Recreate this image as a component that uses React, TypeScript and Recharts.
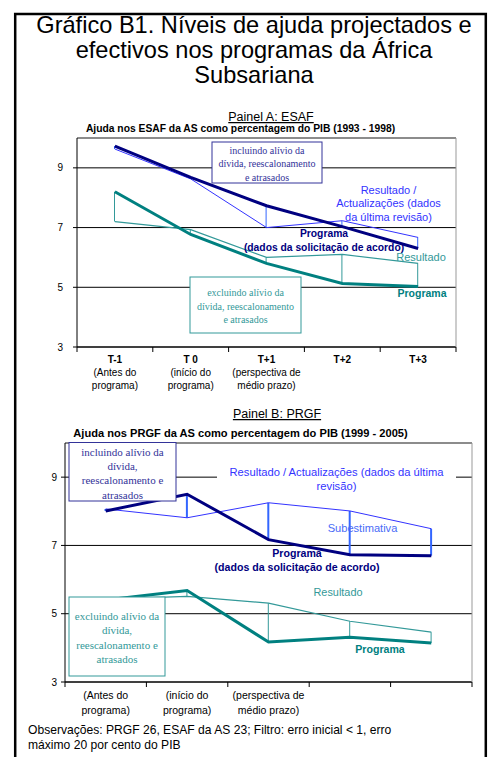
import { ComposedChart, Line, Bar, XAxis, YAxis, CartesianGrid, ReferenceLine } from "recharts"

const SANS = "'Liberation Sans', Arial, sans-serif"
const SERIF = "'Liberation Serif', 'Times New Roman', serif"

// categorias (eixo X)
const categories = ["T-1", "T 0", "T+1", "T+2", "T+3"]
const subLabels = [
  ["(Antes do", "programa)"],
  ["(início do", "programa)"],
  ["(perspectiva de", "médio prazo)"],
  [],
  [],
]
const yTicks = [3, 5, 7, 9]

// Painel A: ESAF (1993 - 1998), % do PIB
const esafProgram = [9.73, 8.68, 7.73, 7.03, 6.3]
const esafOutcome = [9.63, 8.63, 7.0, 7.23, 6.67]
const esafProgramExcl = [8.2, 6.77, 5.8, 5.13, 5.03]
const esafOutcomeExcl = [7.2, 6.93, 6.0, 6.1, 5.8]

// Painel B: PRGF (1999 - 2005), % do PIB
const prgfProgram = [8.01, 8.5, 7.17, 6.73, 6.7]
const prgfOutcome = [8.07, 7.81, 8.25, 8.01, 7.49]
const prgfProgramExcl = [5.4, 5.68, 4.17, 4.31, 4.14]
const prgfOutcomeExcl = [5.43, 5.51, 5.31, 4.78, 4.46]

const NAVY = "#000080"
const BLUE = "#3333ff"
const TEAL = "#008080"
const TEAL_LIGHT = "#339999"
const BOX_BLUE = "#333399"

function buildRows(prog: number[], res: number[], progEx: number[], resEx: number[]) {
  return categories.map((name, i) => ({
    name,
    prog: prog[i],
    res: res[i],
    progEx: progEx[i],
    resEx: resEx[i],
    gapIn: [Math.min(prog[i], res[i]), Math.max(prog[i], res[i])],
    gapEx: [Math.min(progEx[i], resEx[i]), Math.max(progEx[i], resEx[i])],
  }))
}

const rowsA = buildRows(esafProgram, esafOutcome, esafProgramExcl, esafOutcomeExcl)
const rowsB = buildRows(prgfProgram, prgfOutcome, prgfProgramExcl, prgfOutcomeExcl)

function makeTick(showCode: boolean, fontSize: number, firstDy: number, lineH: number) {
  return (props: any) => {
    const { x, y, payload, index } = props
    const half = payload?.offset ?? 38
    const sub = subLabels[index] || []
    const start = showCode ? 1 : 0
    return (
      <g>
        <line x1={x - half} x2={x - half} y1={y} y2={y + 5} stroke="#000" />
        {index === categories.length - 1 && <line x1={x + half} x2={x + half} y1={y} y2={y + 5} stroke="#000" />}
        {showCode && (
          <text x={x} y={y + firstDy} textAnchor="middle" fontSize={fontSize} fontWeight="bold" fill="#000" fontFamily={SANS}>
            {payload.value}
          </text>
        )}
        {sub.map((s, i) => (
          <text key={i} x={x} y={y + firstDy + (i + start) * lineH} textAnchor="middle" fontSize={fontSize} fill="#000" fontFamily={SANS}>
            {s}
          </text>
        ))}
      </g>
    )
  }
}

interface PanelProps {
  rows: any[]
  top: number
  height: number
  margin: { top: number; right: number; left: number; bottom: number }
  xHeight: number
  yTickMargin: number
  tick: any
  blueGap: number
}

function PanelChart({ rows, top, height, margin, xHeight, yTickMargin, tick, blueGap }: PanelProps) {
  return (
    <div style={{ position: "absolute", left: 0, top }}>
      <ComposedChart width={495} height={height} data={rows} margin={margin} barGap={-(blueGap + 1) / 2 - 0.001}>
        <CartesianGrid vertical={false} stroke="#000" strokeDasharray="" />
        <ReferenceLine y={10} stroke="#999" />
        <XAxis
          dataKey="name"
          interval={0}
          height={xHeight}
          tickLine={false}
          tickSize={0}
          tickMargin={0}
          axisLine={{ stroke: "#000" }}
          tick={tick}
        />
        <YAxis
          domain={[3, 10]}
          ticks={yTicks}
          width={40}
          tickSize={4}
          tickMargin={yTickMargin}
          tickLine={{ stroke: "#000" }}
          axisLine={{ stroke: "#000" }}
          tick={{ fontSize: 10, fill: "#000", fontFamily: SANS }}
          allowDataOverflow
        />
        <YAxis yAxisId="frame" orientation="right" domain={[3, 10]} width={1} tick={false} tickLine={false} axisLine={{ stroke: "#999" }} />
        <Bar dataKey="gapEx" fill={TEAL_LIGHT} barSize={1} isAnimationActive={false} />
        <Bar dataKey="gapIn" fill="#3366ff" barSize={blueGap} isAnimationActive={false} />
        <Line type="linear" dataKey="res" stroke={BLUE} strokeWidth={1} dot={false} activeDot={false} isAnimationActive={false} />
        <Line type="linear" dataKey="resEx" stroke={TEAL_LIGHT} strokeWidth={1.2} dot={false} activeDot={false} isAnimationActive={false} />
        <Line type="linear" dataKey="prog" stroke={NAVY} strokeWidth={3} dot={false} activeDot={false} isAnimationActive={false} />
        <Line type="linear" dataKey="progEx" stroke={TEAL} strokeWidth={3} dot={false} activeDot={false} isAnimationActive={false} />
      </ComposedChart>
    </div>
  )
}

function Lines({ x, y, lines, lh, ...rest }: any) {
  return (
    <text x={x} y={y} textAnchor="middle" {...rest}>
      {lines.map((l: string, i: number) => (
        <tspan key={i} x={x} y={y + i * lh}>
          {l}
        </tspan>
      ))}
    </text>
  )
}

export default function App() {
  return (
    <div style={{ position: "absolute", left: 0, top: 0, width: 495, height: 757, background: "#fff", overflow: "hidden" }}>
      <PanelChart
        rows={rowsA}
        top={120}
        height={277}
        margin={{ top: 18, right: 38, left: 37, bottom: 0 }}
        xHeight={50}
        yTickMargin={10}
        tick={makeTick(true, 10, 16, 13)}
        blueGap={1}
      />
      <PanelChart
        rows={rowsB}
        top={425}
        height={297}
        margin={{ top: 18, right: 22, left: 25, bottom: 0 }}
        xHeight={40}
        yTickMargin={4}
        tick={makeTick(false, 10.5, 17, 15)}
        blueGap={2}
      />

      <svg width={495} height={757} style={{ position: "absolute", left: 0, top: 0, pointerEvents: "none" }}>
        {/* moldura */}
        <rect x={15.2} y={14} width={470.6} height={770} fill="none" stroke="#000" strokeWidth={2.5} />

        {/* título */}
        <Lines x={254} y={33} lh={25} fontSize={23.6} fontFamily={SANS} fill="#000"
          lines={["Gráfico B1. Níveis de ajuda projectados e", "efectivos nos programas da África", "Subsariana"]} />

        {/* Painel A */}
        <text x={271} y={121} textAnchor="middle" fontSize={12.5} fontFamily={SANS} textDecoration="underline">Painel A: ESAF</text>
        <text x={240.5} y={131.5} textAnchor="middle" fontSize={10.3} fontWeight="bold" fontFamily={SANS}>
          Ajuda nos ESAF da AS como percentagem do PIB (1993 - 1998)
        </text>

        <rect x={212} y={142} width={110} height={41} fill="#fff" stroke={BOX_BLUE} strokeWidth={1} />
        <Lines x={267} y={153.5} lh={13.5} fontSize={10} fontFamily={SERIF} fill={BOX_BLUE}
          lines={["incluindo alívio da", "dívida, reescalonamento", "e atrasados"]} />

        <Lines x={388.5} y={193.5} lh={13.5} fontSize={11} fontFamily={SANS} fill={BLUE}
          lines={["Resultado /", "Actualizações (dados", "da última revisão)"]} />
        <Lines x={324} y={237} lh={14} fontSize={10.3} fontWeight="bold" fontFamily={SANS} fill={NAVY}
          lines={["Programa", "(dados da solicitação de acordo)"]} />
        <text x={421} y={261} textAnchor="middle" fontSize={11} fontFamily={SANS} fill={TEAL_LIGHT}>Resultado</text>

        <rect x={190} y={277} width={111} height={56} fill="#fff" stroke={TEAL_LIGHT} strokeWidth={1} />
        <Lines x={245.5} y={296} lh={13.5} fontSize={10} fontFamily={SERIF} fill={TEAL_LIGHT}
          lines={["excluindo alívio da", "dívida, reescalonamento", "e atrasados"]} />
        <text x={422} y={297} textAnchor="middle" fontSize={10.5} fontWeight="bold" fontFamily={SANS} fill={TEAL}>Programa</text>

        {/* Painel B */}
        <text x={277} y={418} textAnchor="middle" fontSize={12.5} fontFamily={SANS} textDecoration="underline">Painel B: PRGF</text>
        <text x={240.5} y={437} textAnchor="middle" fontSize={11.1} fontWeight="bold" fontFamily={SANS}>
          Ajuda nos PRGF da AS como percentagem do PIB (1999 - 2005)
        </text>

        <rect x={69} y={442.5} width={107} height={58.5} fill="#fff" stroke={BOX_BLUE} strokeWidth={1} />
        <Lines x={122.5} y={456} lh={14.2} fontSize={11} fontFamily={SERIF} fill={BOX_BLUE}
          lines={["incluindo alívio da", "dívida,", "reescalonamento e", "atrasados"]} />

        <rect x={217} y={464} width={239} height={28} fill="#fff" />
        <Lines x={336.5} y={476} lh={14} fontSize={11.2} fontFamily={SANS} fill={BLUE}
          lines={["Resultado / Actualizações (dados da última", "revisão)"]} />
        <text x={362.5} y={532} textAnchor="middle" fontSize={11.1} fontFamily={SANS} fill="#4a6cf7">Subestimativa</text>
        <Lines x={297} y={557} lh={14} fontSize={10.6} fontWeight="bold" fontFamily={SANS} fill={NAVY}
          lines={["Programa", "(dados da solicitação de acordo)"]} />
        <text x={338} y={596} textAnchor="middle" fontSize={10.9} fontFamily={SANS} fill={TEAL_LIGHT}>Resultado</text>
        <text x={380} y={653} textAnchor="middle" fontSize={10.6} fontWeight="bold" fontFamily={SANS} fill={TEAL}>Programa</text>

        <rect x={69} y={597} width={96} height={79} fill="#fff" stroke={TEAL_LIGHT} strokeWidth={1} />
        <Lines x={117} y={620} lh={14.3} fontSize={11} fontFamily={SERIF} fill={TEAL_LIGHT}
          lines={["excluindo alívio da", "dívida,", "reescalonamento e", "atrasados"]} />

        {/* observações */}
        <text x={28} y={734} fontSize={12.1} fontFamily={SANS} fill="#000">
          <tspan x={28} y={734}>Observações: PRGF 26, ESAF da AS 23; Filtro: erro inicial &lt; 1, erro</tspan>
          <tspan x={28} y={749}>máximo 20 por cento do PIB</tspan>
        </text>
      </svg>
    </div>
  )
}
